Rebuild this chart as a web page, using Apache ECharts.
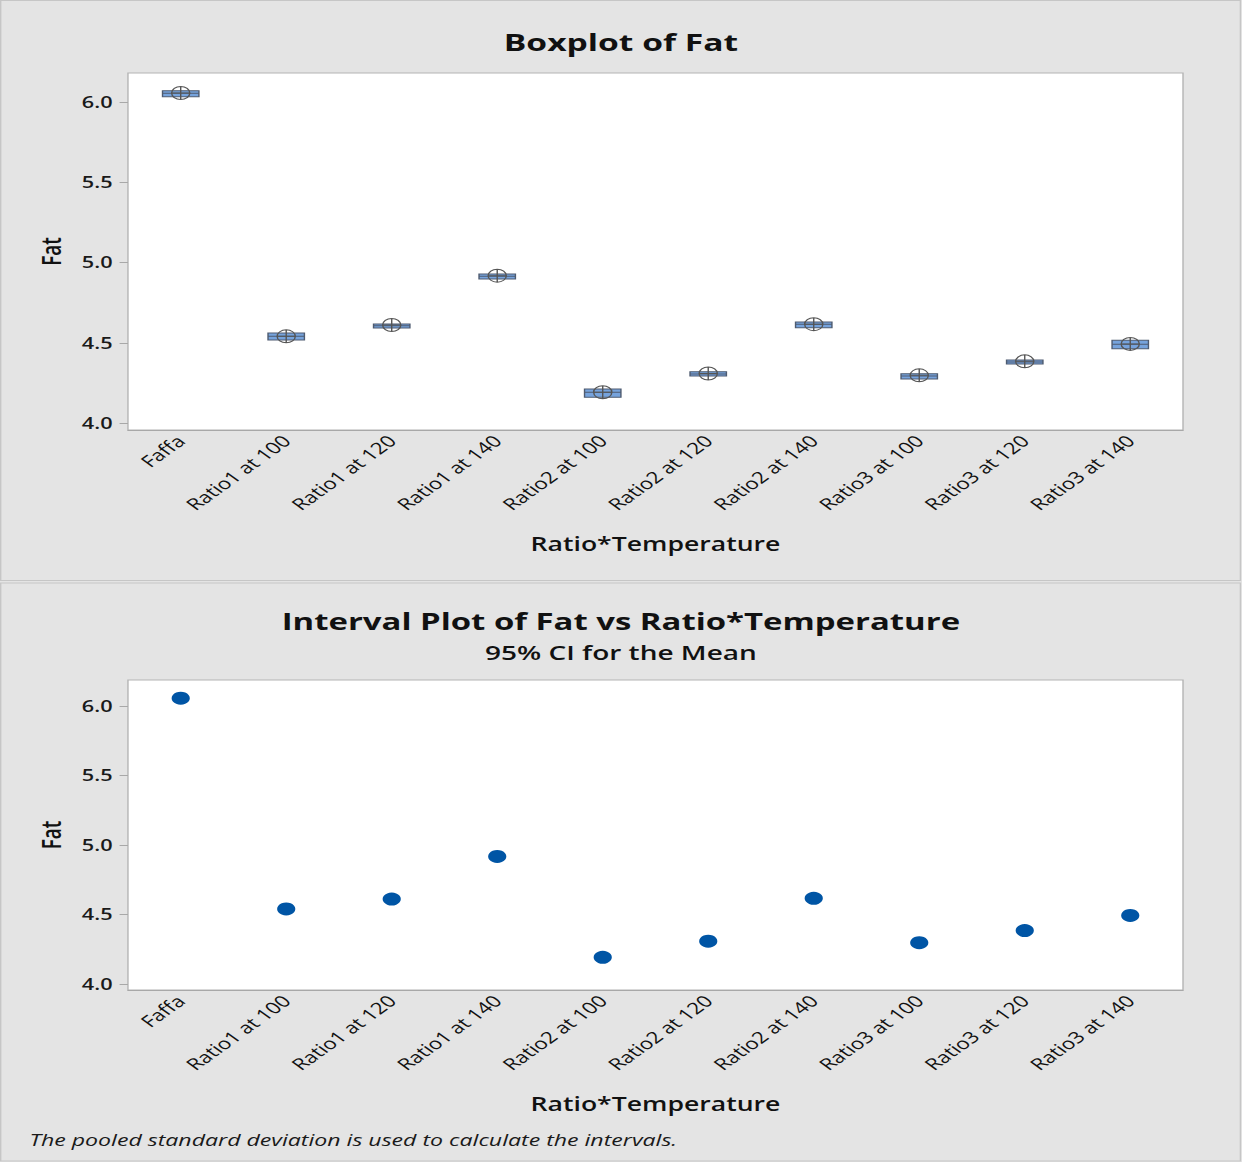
<!DOCTYPE html>
<html>
<head>
<meta charset="utf-8">
<script src="https://cdn.jsdelivr.net/npm/echarts@6/dist/echarts.min.js"></script>
<style>
  html, body { margin: 0; padding: 0; background: #e4e4e4; overflow: hidden; }
  /* the Minitab picture is stretched sideways, so the chart is drawn narrow and stretched back */
  #chart { width: 887px; height: 1162px; transform: scaleX(1.4); transform-origin: 0 0; }
</style>
</head>
<body>
<div id="chart"></div>
<script>
// 分类
const categories = ['Faffa', 'Ratio1 at 100', 'Ratio1 at 120', 'Ratio1 at 140', 'Ratio2 at 100',
  'Ratio2 at 120', 'Ratio2 at 140', 'Ratio3 at 100', 'Ratio3 at 120', 'Ratio3 at 140'];
// 箱线图数据
const q1 = [6.033, 4.517, 4.592, 4.897, 4.160, 4.293, 4.594, 4.274, 4.368, 4.463];
const median = [6.054, 4.540, 4.606, 4.914, 4.191, 4.305, 4.615, 4.293, 4.380, 4.490];
const q3 = [6.070, 4.561, 4.617, 4.928, 4.212, 4.320, 4.629, 4.307, 4.393, 4.515];
// 均值
const means = [6.056, 4.540, 4.611, 4.918, 4.192, 4.308, 4.616, 4.297, 4.384, 4.493];
// y轴刻度
const yTickValues = [4.0, 4.5, 5.0, 5.5, 6.0];
const boxRange = [3.9564, 6.1807];
const intervalRange = [3.9568, 6.187];

const font = 'Open Sans';
const axisGrey = '#a8a8a8';
const meanSymbol = 'path://M0,6.5a6.5,6.5 0 1,0 13,0a6.5,6.5 0 1,0 -13,0M6.5,0V13M0,6.5H13';

const mychart = echarts.init(document.getElementById('chart'), null, { renderer: 'svg' });

function xAxisFor(gridIndex) {
  return {
    type: 'category',
    gridIndex: gridIndex,
    data: categories,
    name: 'Ratio*Temperature',
    nameLocation: 'middle',
    nameGap: 104,
    nameTextStyle: { fontFamily: font, fontSize: 19, fontWeight: 600, color: '#111' },
    axisLine: { show: true, lineStyle: { color: axisGrey } },
    axisTick: { alignWithLabel: true, length: 6, lineStyle: { color: axisGrey } },
    axisLabel: { rotate: 45, margin: 8, fontFamily: font, fontSize: 16, fontWeight: 500, color: '#111', interval: 0 },
    splitLine: { show: false },
  };
}

function yAxisFor(gridIndex, range) {
  return {
    type: 'value',
    gridIndex: gridIndex,
    min: range[0],
    max: range[1],
    name: 'Fat',
    nameLocation: 'middle',
    nameGap: 46,
    nameTextStyle: { fontFamily: font, fontSize: 19, fontWeight: 600, color: '#111' },
    axisLine: { show: false },
    axisTick: { show: true, length: 6, customValues: yTickValues, lineStyle: { color: axisGrey } },
    axisLabel: {
      margin: 11, fontFamily: font, fontSize: 15.5, fontWeight: 600, color: '#1a1a1a',
      customValues: yTickValues,
      formatter: (v) => v.toFixed(1),
    },
    splitLine: { show: false },
  };
}

const gridStyle = { show: true, backgroundColor: '#ffffff', borderColor: '#b4b4b4', borderWidth: 1 };

const option = {
  animation: false,
  backgroundColor: '#e4e4e4',
  title: [
    {
      text: 'Boxplot of Fat',
      left: 'center',
      top: 30,
      padding: 0,
      textStyle: { fontFamily: font, fontSize: 24, fontWeight: 'bold', color: '#111' },
    },
    {
      text: 'Interval Plot of Fat vs Ratio*Temperature',
      subtext: '95% CI for the Mean',
      left: 'center',
      top: 609,
      padding: 0,
      itemGap: 9,
      textStyle: { fontFamily: font, fontSize: 23.5, fontWeight: 'bold', color: '#111' },
      subtextStyle: { fontFamily: font, fontSize: 20, fontWeight: 600, color: '#111' },
    },
  ],
  graphic: [
    { type: 'rect', z: -10, shape: { x: 0.5, y: 0.5, width: 885.5, height: 580 },
      style: { fill: '#e4e4e4', stroke: '#c6c6c6', lineWidth: 1 } },
    { type: 'rect', z: -10, shape: { x: 0.5, y: 583, width: 885.5, height: 578 },
      style: { fill: '#e4e4e4', stroke: '#c6c6c6', lineWidth: 1 } },
    {
      type: 'text', left: 21, top: 1131,
      style: {
        text: 'The pooled standard deviation is used to calculate the intervals.',
        font: 'italic 16.5px "Open Sans"', fill: '#1a1a1a',
      },
    },
  ],
  grid: [
    Object.assign({ left: 91.4, top: 73, width: 753.6, height: 357 }, gridStyle),
    Object.assign({ left: 91.4, top: 680, width: 753.6, height: 310 }, gridStyle),
  ],
  xAxis: [xAxisFor(0), xAxisFor(1)],
  yAxis: [yAxisFor(0, boxRange), yAxisFor(1, intervalRange)],
  series: [
    {
      type: 'boxplot',
      xAxisIndex: 0,
      yAxisIndex: 0,
      boxWidth: [26, 26],
      data: categories.map((c, i) => [q1[i], q1[i], median[i], q3[i], q3[i]]),
      itemStyle: { color: '#76a3dc', borderColor: '#4e5b70', borderWidth: 1 },
      emphasis: { disabled: true },
    },
    {
      type: 'scatter',
      xAxisIndex: 0,
      yAxisIndex: 0,
      symbol: meanSymbol,
      symbolSize: 13,
      data: means,
      itemStyle: { color: 'rgba(0,0,0,0)', borderColor: '#555555', borderWidth: 1, opacity: 1 },
      emphasis: { disabled: true },
      z: 5,
    },
    {
      type: 'scatter',
      xAxisIndex: 1,
      yAxisIndex: 1,
      symbol: 'circle',
      symbolSize: 13,
      data: means,
      itemStyle: { color: '#0055a5', opacity: 1 },
      emphasis: { disabled: true },
    },
  ],
};

mychart.setOption(option);
</script>
</body>
</html>
